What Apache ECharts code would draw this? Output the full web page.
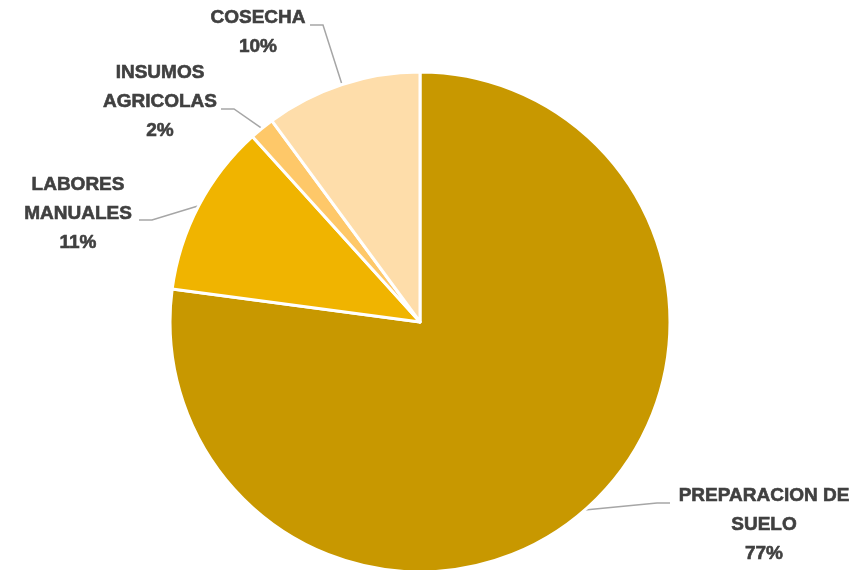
<!DOCTYPE html>
<html>
<head>
<meta charset="utf-8">
<script src="https://cdn.jsdelivr.net/npm/echarts@6/dist/echarts.min.js"></script>
<style>
html,body{margin:0;padding:0;background:#fff;}
#chart{width:866px;height:570px;}
</style>
</head>
<body>
<div id="chart"></div>
<script>
// Data
const categories = ['PREPARACION DE\nSUELO', 'LABORES\nMANUALES', 'INSUMOS\nAGRICOLAS', 'COSECHA'];
const values = [77.1, 11.2, 1.6, 10.1];
const colors = ['#C89800', '#F0B400', '#FEC869', '#FEDDAA'];

// Label layout (block centre x, block centre y, guide line end x, guide line y)
const labelBoxes = [
  { cx: 764, cy: 525, lx: 670, ly: 503 },
  { cx: 78,  cy: 214, lx: 139, ly: 220 },
  { cx: 160, cy: 102, lx: 221, ly: 109 },
  { cx: 258, cy: 32,  lx: 310, ly: 25 }
];

const chart = echarts.init(document.getElementById('chart'), null, { renderer: 'canvas' });
chart.setOption({
  backgroundColor: '#ffffff',
  animation: false,
  series: [{
    type: 'pie',
    center: [420, 322],
    radius: 250,
    startAngle: 90,
    clockwise: true,
    avoidLabelOverlap: false,
    itemStyle: { borderColor: '#ffffff', borderWidth: 3 },
    label: {
      show: true,
      position: 'outside',
      color: '#404040',
      fontFamily: '"Liberation Sans", Arial, sans-serif',
      fontWeight: 'bold',
      fontSize: 19,
      lineHeight: 29,
      textBorderColor: '#404040',
      textBorderWidth: 0.6,
      align: 'center',
      formatter: p => p.name + '\n' + Math.round(p.percent) + '%'
    },
    labelLine: {
      show: true,
      length: 20,
      length2: 10,
      lineStyle: { color: '#A6A6A6', width: 1.5 }
    },
    labelLayout: function (params) {
      const b = labelBoxes[params.dataIndex];
      const p0 = params.labelLinePoints ? params.labelLinePoints[0] : [b.lx, b.ly];
      const dir = b.lx > p0[0] ? -1 : 1;
      return {
        x: b.cx,
        y: b.cy,
        align: 'center',
        verticalAlign: 'middle',
        labelLinePoints: [p0, [b.lx + dir * 13, b.ly], [b.lx, b.ly]]
      };
    },
    data: categories.map((c, i) => ({ name: c, value: values[i], itemStyle: { color: colors[i] } }))
  }]
});
</script>
</body>
</html>
